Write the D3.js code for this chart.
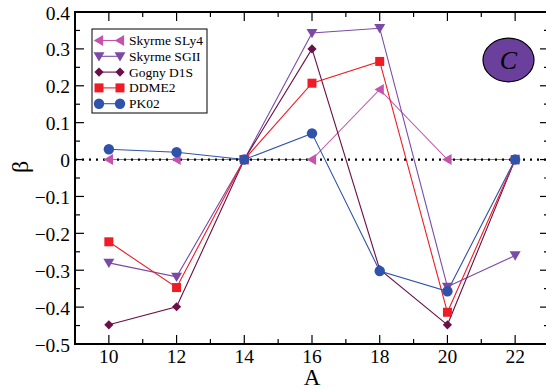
<!DOCTYPE html>
<html><head><meta charset="utf-8">
<script src="https://cdn.jsdelivr.net/npm/d3@7"></script>
<style>body{margin:0;background:#fff}svg{display:block}</style>
</head><body>
<script>
const massNumbers = [10, 12, 14, 16, 18, 20, 22];
const sly4  = [0, 0, 0, 0, 0.19, 0, 0];
const sgii  = [-0.28, -0.318, 0, 0.343, 0.356, -0.345, -0.26];
const gogny = [-0.448, -0.399, 0, 0.30, -0.298, -0.448, 0];
const ddme2 = [-0.223, -0.347, 0, 0.207, 0.266, -0.414, 0];
const pk02  = [0.028, 0.02, 0, 0.071, -0.302, -0.357, 0];
const seriesNames = ["Skyrme SLy4", "Skyrme SGII", "Gogny D1S", "DDME2", "PK02"];
const xTicks = [10, 12, 14, 16, 18, 20, 22];
const yTicks = [-0.5, -0.4, -0.3, -0.2, -0.1, 0, 0.1, 0.2, 0.3, 0.4];

const series = [
  {name: seriesNames[0], vals: sly4,  color: "#c453ad", sym: "left"},
  {name: seriesNames[1], vals: sgii,  color: "#7b4aa6", sym: "down"},
  {name: seriesNames[2], vals: gogny, color: "#6a0f47", sym: "diamond"},
  {name: seriesNames[3], vals: ddme2, color: "#ee1c25", sym: "square"},
  {name: seriesNames[4], vals: pk02,  color: "#2f52aa", sym: "circle"}
];

const W = 546, H = 389;
const m = {l: 75, t: 12, r: 549, b: 344};
const svg = d3.select("body").append("svg").attr("width", W).attr("height", H);
const x = d3.scaleLinear().domain([9, 23]).range([m.l, m.r]);
const y = d3.scaleLinear().domain([-0.5, 0.4]).range([m.b, m.t]);
const font = "'Liberation Serif','Times New Roman',serif";

function marker(g, sym, cx, cy, color) {
  if (sym === "circle") {
    g.append("circle").attr("cx", cx).attr("cy", cy).attr("r", 5.2).attr("fill", color);
  } else if (sym === "square") {
    g.append("rect").attr("x", cx - 4.5).attr("y", cy - 4.5).attr("width", 9).attr("height", 9).attr("fill", color);
  } else if (sym === "diamond") {
    const s = 4.6;
    g.append("path").attr("d", `M${cx},${cy-s}L${cx+s},${cy}L${cx},${cy+s}L${cx-s},${cy}Z`).attr("fill", color);
  } else if (sym === "down") {
    const s = 5.5;
    g.append("path").attr("d", `M${cx-s},${cy-s*0.75}L${cx+s},${cy-s*0.75}L${cx},${cy+s*0.95}Z`).attr("fill", color);
  } else if (sym === "left") {
    const s = 5.5;
    g.append("path").attr("d", `M${cx+s*0.75},${cy-s}L${cx+s*0.75},${cy+s}L${cx-s*0.95},${cy}Z`).attr("fill", color);
  }
}

// series lines
const line = d3.line().x((d, i) => x(massNumbers[i])).y(d => y(d));
series.forEach(s => {
  svg.append("path").attr("d", line(s.vals)).attr("fill", "none").attr("stroke", s.color).attr("stroke-width", 1.1);
});

// zero dotted line
svg.append("line").attr("x1", m.l).attr("x2", m.r).attr("y1", y(0)).attr("y2", y(0))
  .attr("stroke", "#000").attr("stroke-width", 2.2).attr("stroke-dasharray", "2,5");

// markers
series.forEach(s => {
  const g = svg.append("g");
  s.vals.forEach((v, i) => marker(g, s.sym, x(massNumbers[i]), y(v), s.color));
});

// ticks (inward, all sides)
const tk = svg.append("g").attr("stroke", "#000").attr("stroke-width", 1.2);
d3.range(9, 24, 1).forEach(v => {
  const L = (v % 2 === 0) ? 9 : 5;
  tk.append("line").attr("x1", x(v)).attr("x2", x(v)).attr("y1", m.b).attr("y2", m.b - L);
  tk.append("line").attr("x1", x(v)).attr("x2", x(v)).attr("y1", m.t).attr("y2", m.t + L);
});
d3.range(-0.5, 0.4001, 0.05).forEach(v => {
  const major = Math.abs(Math.round(v * 20)) % 2 === 0;
  const L = major ? 9 : 5;
  tk.append("line").attr("x1", m.l).attr("x2", m.l + L).attr("y1", y(v)).attr("y2", y(v));
  tk.append("line").attr("x1", m.r).attr("x2", m.r - L).attr("y1", y(v)).attr("y2", y(v));
});

// frame
svg.append("rect").attr("x", m.l).attr("y", m.t).attr("width", m.r - m.l).attr("height", m.b - m.t)
  .attr("fill", "none").attr("stroke", "#000").attr("stroke-width", 2);

// tick labels
svg.append("g").selectAll("text").data(xTicks).join("text")
  .attr("x", d => x(d)).attr("y", 363).attr("text-anchor", "middle")
  .attr("font-family", font).attr("font-size", 19.5).text(d => d);
svg.append("g").selectAll("text").data(yTicks).join("text")
  .attr("x", 70).attr("y", d => y(d) + 7.5).attr("text-anchor", "end")
  .attr("font-family", font).attr("font-size", 19.5).text(d => d === 0 ? "0" : d3.format(".1f")(d));

// axis titles
svg.append("text").attr("x", x(16)).attr("y", 385).attr("text-anchor", "middle")
  .attr("font-family", font).attr("font-size", 23).text("A");
svg.append("text").attr("transform", `translate(28,${y(-0.02)}) rotate(-90)`).attr("text-anchor", "middle")
  .attr("font-family", font).attr("font-size", 24).text("β");

// legend
const lg = svg.append("g");
lg.append("rect").attr("x", 92).attr("y", 29).attr("width", 115).attr("height", 84)
  .attr("fill", "#fff").attr("stroke", "#000").attr("stroke-width", 1);
series.forEach((s, i) => {
  const ly = 40.5 + i * 15.8;
  lg.append("line").attr("x1", 99).attr("x2", 120).attr("y1", ly).attr("y2", ly)
    .attr("stroke", s.color).attr("stroke-width", 1.1);
  marker(lg, s.sym, 99, ly, s.color);
  marker(lg, s.sym, 120, ly, s.color);
  lg.append("text").attr("x", 129).attr("y", ly + 4.5).attr("font-family", font)
    .attr("font-size", 13.5).text(s.name);
});

// C badge
svg.append("ellipse").attr("cx", 508.5).attr("cy", 60).attr("rx", 25.5).attr("ry", 21.8)
  .attr("fill", "#6b3f9c").attr("stroke", "#000").attr("stroke-width", 1.2);
svg.append("text").attr("x", 508.5).attr("y", 69).attr("text-anchor", "middle")
  .attr("font-family", font).attr("font-style", "italic").attr("font-size", 26).text("C");
</script>
</body></html>
